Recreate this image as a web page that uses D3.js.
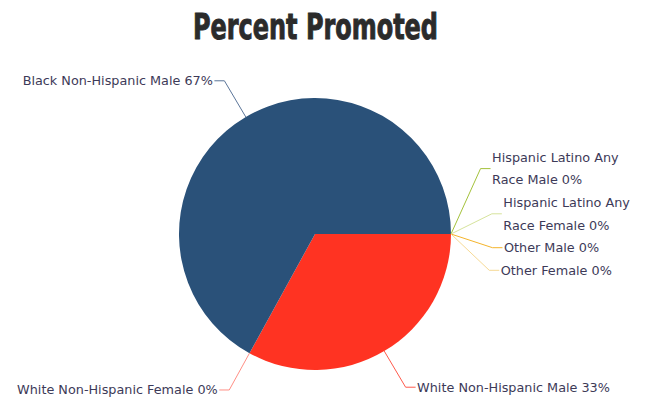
<!DOCTYPE html>
<html>
<head>
<meta charset="utf-8">
<script src="https://cdn.jsdelivr.net/npm/d3@7"></script>
<style>
  html, body { margin: 0; padding: 0; background: #fff; }
  svg { display: block; }
</style>
</head>
<body>
<svg id="chart" width="647" height="397"></svg>
<script>
// ---- data ----
const title = "Percent Promoted";
const categories = [
  "Hispanic Latino Any Race Male",
  "Hispanic Latino Any Race Female",
  "Other Male",
  "Other Female",
  "White Non-Hispanic Male",
  "White Non-Hispanic Female",
  "Black Non-Hispanic Male"
];
const values = [0, 0, 0, 0, 33, 0, 67];
const labelLines = [
  ["Hispanic Latino Any", "Race Male 0%"],
  ["Hispanic Latino Any", "Race Female 0%"],
  ["Other Male 0%"],
  ["Other Female 0%"],
  ["White Non-Hispanic Male 33%"],
  ["White Non-Hispanic Female 0%"],
  ["Black Non-Hispanic Male 67%"]
];
const sliceColors = ["#a4c23b", "#d6e39c", "#f4b42c", "#f6d995", "#ff3322", "#ff8f85", "#2a5179"];
const lineColors  = ["#a4c23b", "#d6e39c", "#f4b42c", "#f6d995", "#ff5a4c", "#ff8f85", "#5b7599"];

// ---- layout ----
const W = 647, H = 397;
const cx = 315, cy = 234, R = 136, R2 = 178;
const lineH = 22.6;
const svg = d3.select("#chart");

svg.append("text")
  .attr("x", 315.5).attr("y", 39)
  .attr("text-anchor", "middle")
  .attr("font-family", "'DejaVu Sans Condensed', 'DejaVu Sans', sans-serif")
  .attr("font-stretch", "condensed")
  .attr("font-weight", "bold")
  .attr("font-size", 35)
  .attr("fill", "#2b2b2b")
  .attr("stroke", "#2b2b2b")
  .attr("stroke-width", 0.9)
  .attr("textLength", 245)
  .attr("lengthAdjust", "spacingAndGlyphs")
  .text(title);

const data = categories.map((c, i) => ({ name: c, value: values[i], i }));
const pie = d3.pie().sort(null).value(d => d.value)
  .startAngle(Math.PI / 2).endAngle(Math.PI / 2 + 2 * Math.PI);
const arcs = pie(data);
const arc = d3.arc().innerRadius(0).outerRadius(R);

const g = svg.append("g").attr("transform", `translate(${cx},${cy})`);
g.selectAll("path.slice").data(arcs.filter(a => a.data.value > 0)).join("path")
  .attr("class", "slice")
  .attr("d", arc)
  .attr("fill", d => sliceColors[d.data.i]);

// label layout
const labels = arcs.map(a => {
  const mid = (a.startAngle + a.endAngle) / 2;
  const ax = Math.sin(mid), ay = -Math.cos(mid);
  const n = labelLines[a.data.i].length;
  return {
    a, ax, ay, n,
    side: ax >= -1e-6 ? 1 : -1,
    px: cx + R * ax, py: cy + R * ay,
    y: cy + R2 * ay,
    h: n * lineH
  };
});
// resolve overlaps per side: stack labels sharing the same spot
["right", "left"].forEach(sideName => {
  const s = sideName === "right" ? 1 : -1;
  const group = labels.filter(l => l.side === s && Math.abs(l.ay) < 0.5);
  if (group.length > 1) {
    let top = cy - 88;
    group.forEach(l => { l.y = top + l.h / 2; top += l.h; });
  }
});
labels.forEach(l => {
  const dy = l.y - cy;
  l.ex = cx + l.side * Math.sqrt(Math.max(0, R2 * R2 - dy * dy));
  l.hx = l.ex + l.side * 10;
  l.tx = l.hx + l.side * 1.5;
});

svg.selectAll("polyline.lead").data(labels).join("polyline")
  .attr("class", "lead")
  .attr("points", l => `${l.px},${l.py} ${l.ex},${l.y} ${l.hx},${l.y}`)
  .attr("fill", "none")
  .attr("stroke", l => lineColors[l.a.data.i])
  .attr("stroke-width", 1);

const txt = svg.selectAll("text.lbl").data(labels).join("text")
  .attr("class", "lbl")
  .attr("x", l => l.tx)
  .attr("y", l => l.y - (l.n - 1) * lineH / 2)
  .attr("text-anchor", l => l.side > 0 ? "start" : "end")
  .attr("font-family", "'DejaVu Sans', sans-serif")
  .attr("font-size", 12.8)
  .attr("fill", "#3d3a58");
txt.each(function(l) {
  const t = d3.select(this);
  labelLines[l.a.data.i].forEach((line, k) => {
    t.append("tspan")
      .attr("x", l.tx)
      .attr("y", l.y - (l.n - 1) * lineH / 2 + k * lineH)
      .attr("dy", "0.35em")
      .text(line);
  });
});
</script>
</body>
</html>
